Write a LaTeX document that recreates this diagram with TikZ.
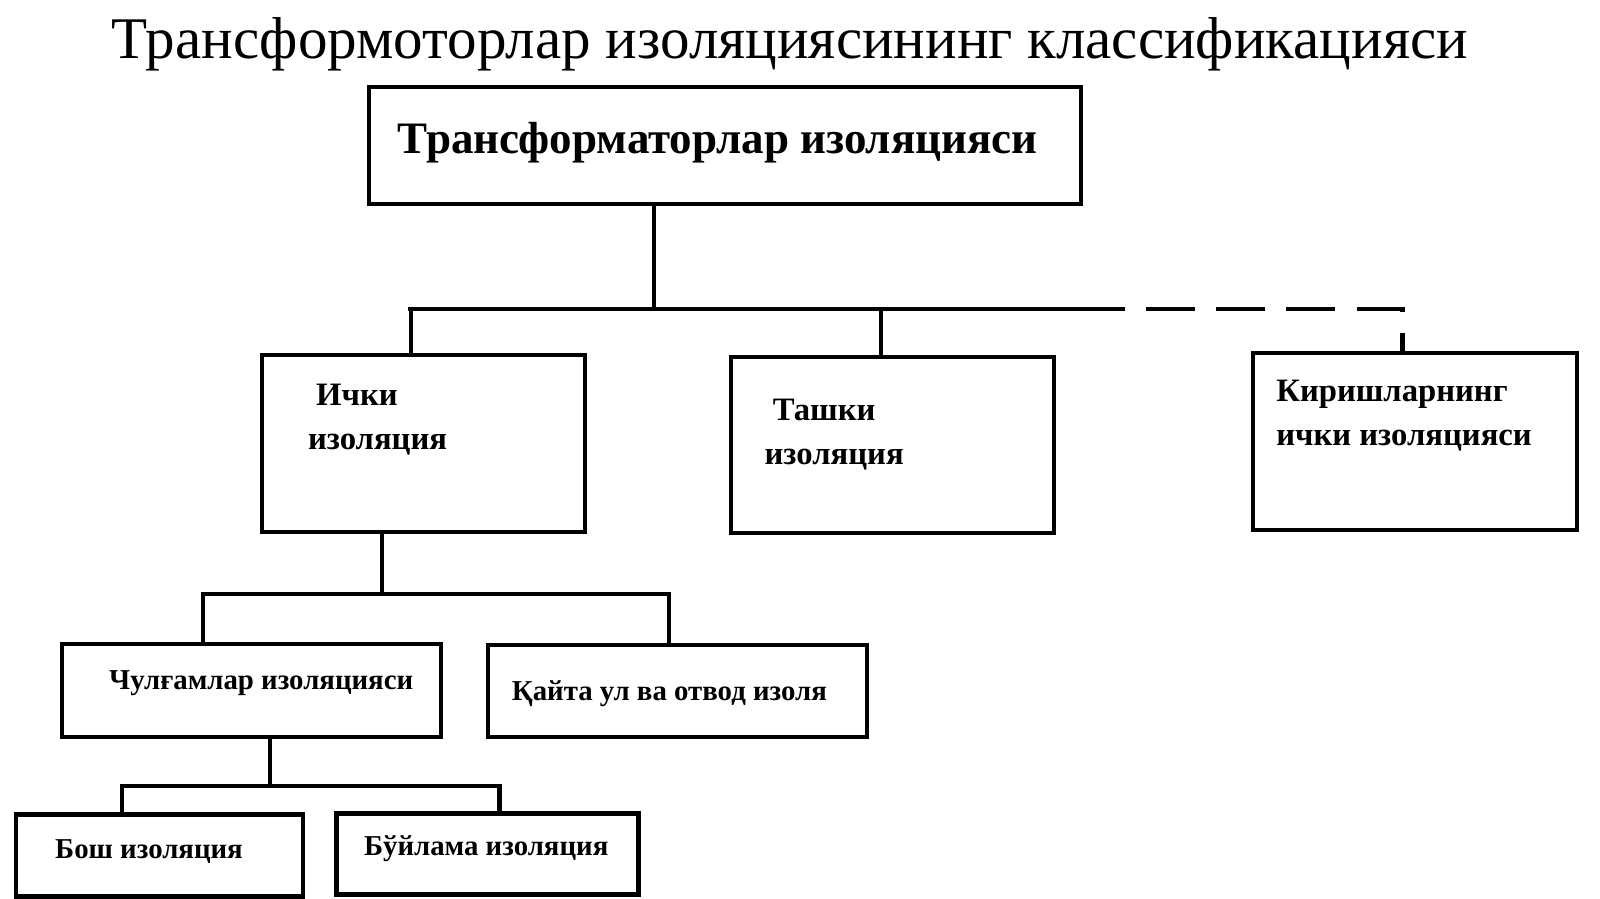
\documentclass[tikz,border=0pt]{standalone}
\usepackage{fontspec}
\setmainfont{Liberation Serif}
\usepackage{tikz}

\begin{document}
\tikzset{
  box/.style={draw,line width=1.2pt,inner sep=0pt,anchor=north west},
  lbl/.style={font=\bfseries\fontsize{9.3}{12.5}\selectfont,align=left,anchor=west},
  small/.style={lbl,font=\bfseries\fontsize{8.2}{10}\selectfont},
  link/.style={line width=1.2pt}
}
\begin{tikzpicture}[x=0.0102cm,y=-0.0102cm]
  \node (title) at (775,43) {\fontsize{16.8}{18}\selectfont Трансформоторлар изоляциясининг классификацияси};

  % boxes
  \node[box,minimum width=7.12cm,minimum height=1.17cm] (main) at (360,83) {};
  \node[lbl,font=\bfseries\fontsize{12.8}{14}\selectfont] at (378,140) {Трансформаторлар изоляцияси};
  \node[box,minimum width=3.23cm,minimum height=1.77cm] (ichki) at (255,346) {};
  \node[lbl] at (290,412) {\ Ички\\изоляция};
  \node[box,minimum width=3.23cm,minimum height=1.76cm] (tashki) at (715,348) {};
  \node[lbl] at (738,426) {\ Ташки\\изоляция};
  \node[box,minimum width=3.24cm,minimum height=1.77cm] (kirish) at (1227,344) {};
  \node[lbl] at (1240,408) {Киришларнинг\\ички изоляцияси};
  \node[box,minimum width=3.79cm,minimum height=0.93cm] (chulgam) at (59,630) {};
  \node[small] at (95,670) {Чулғамлар изоляцияси};
  \node[box,minimum width=3.79cm,minimum height=0.92cm] (qayta) at (477,631) {};
  \node[small] at (490,681) {Қайта ул ва отвод изоля};
  \node[box,minimum width=2.87cm,minimum height=0.82cm] (bosh) at (14,797) {};
  \node[small] at (42,835) {Бош изоляция};
  \node[box,minimum width=3.02cm,minimum height=0.81cm] (buylama) at (328,796) {};
  \node[small] at (345,833) {Бўйлама изоляция};

  % connectors
  \coordinate (j1) at (642,303);
  \coordinate (j2) at (375,583);
  \coordinate (j3) at (265,771);
  \draw[link] (main.south -| j1) -- (j1);
  \draw[link] (400,303) -- (1055,303);
  \draw[link,dashed,dash pattern=on 14pt off 6pt] (1055,303) -| (kirish.north -| 1376,0);
  \draw[link] (ichki.north -| 403,0) -- (403,303);
  \draw[link] (tashki.north -| 864,0) -- (864,303);
  \draw[link] (ichki.south -| j2) -- (j2);
  \draw[link] (chulgam.north -| 199,0) |- (656,583) -- (qayta.north -| 656,0);
  \draw[link] (chulgam.south -| j3) -- (j3);
  \draw[link] (bosh.north -| 120,0) |- (490,771) -- (buylama.north -| 490,0);

  \pgfresetboundingbox
  \useasboundingbox (0cm,0cm) rectangle (16cm,-8.99cm);
\end{tikzpicture}
\end{document}
